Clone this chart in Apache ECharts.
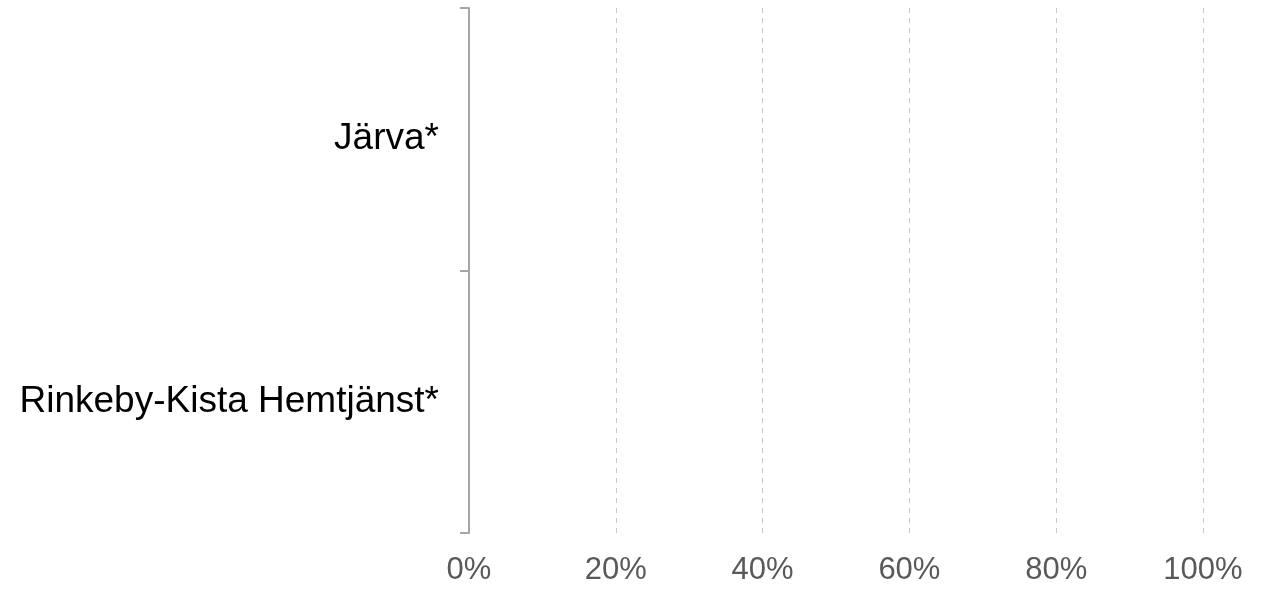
<!DOCTYPE html>
<html><head><meta charset="utf-8">
<script src="https://cdn.jsdelivr.net/npm/echarts@6/dist/echarts.min.js"></script>
<style>html,body{margin:0;padding:0;background:#fff}#c{width:1263px;height:590px}</style>
</head><body><div id="c"></div>
<script>
const categories = ['Järva*', 'Rinkeby-Kista Hemtjänst*'];
const values = [0, 0];
const xTicks = [0, 0.2, 0.4, 0.6, 0.8, 1];

const chart = echarts.init(document.getElementById('c'));
chart.setOption({
  animation: false,
  grid: {left: 469, right: 60, top: 8, bottom: 57, containLabel: false},
  xAxis: {
    type: 'value', min: xTicks[0], max: xTicks[xTicks.length - 1], interval: 0.2,
    axisLine: {show: false}, axisTick: {show: false},
    splitLine: {show: true, lineStyle: {color: '#c8c8c8', type: [5, 5], width: 1}},
    axisLabel: {
      formatter: v => Math.round(v * 100) + '%',
      color: '#595959', fontSize: 31, fontFamily: 'Liberation Sans, Arial, sans-serif', margin: 22
    }
  },
  yAxis: {
    type: 'category', data: categories, inverse: true,
    axisLine: {show: true, lineStyle: {color: '#a6a6a6', width: 2}},
    axisTick: {show: true, length: 9, lineStyle: {color: '#a6a6a6', width: 2}},
    splitLine: {show: false},
    axisLabel: {color: '#000', fontSize: 37, fontFamily: 'Liberation Sans, Arial, sans-serif', margin: 30}
  },
  series: [{type: 'bar', data: values, itemStyle: {color: '#4472c4'}, barWidth: '60%'}]
});
</script></body></html>
